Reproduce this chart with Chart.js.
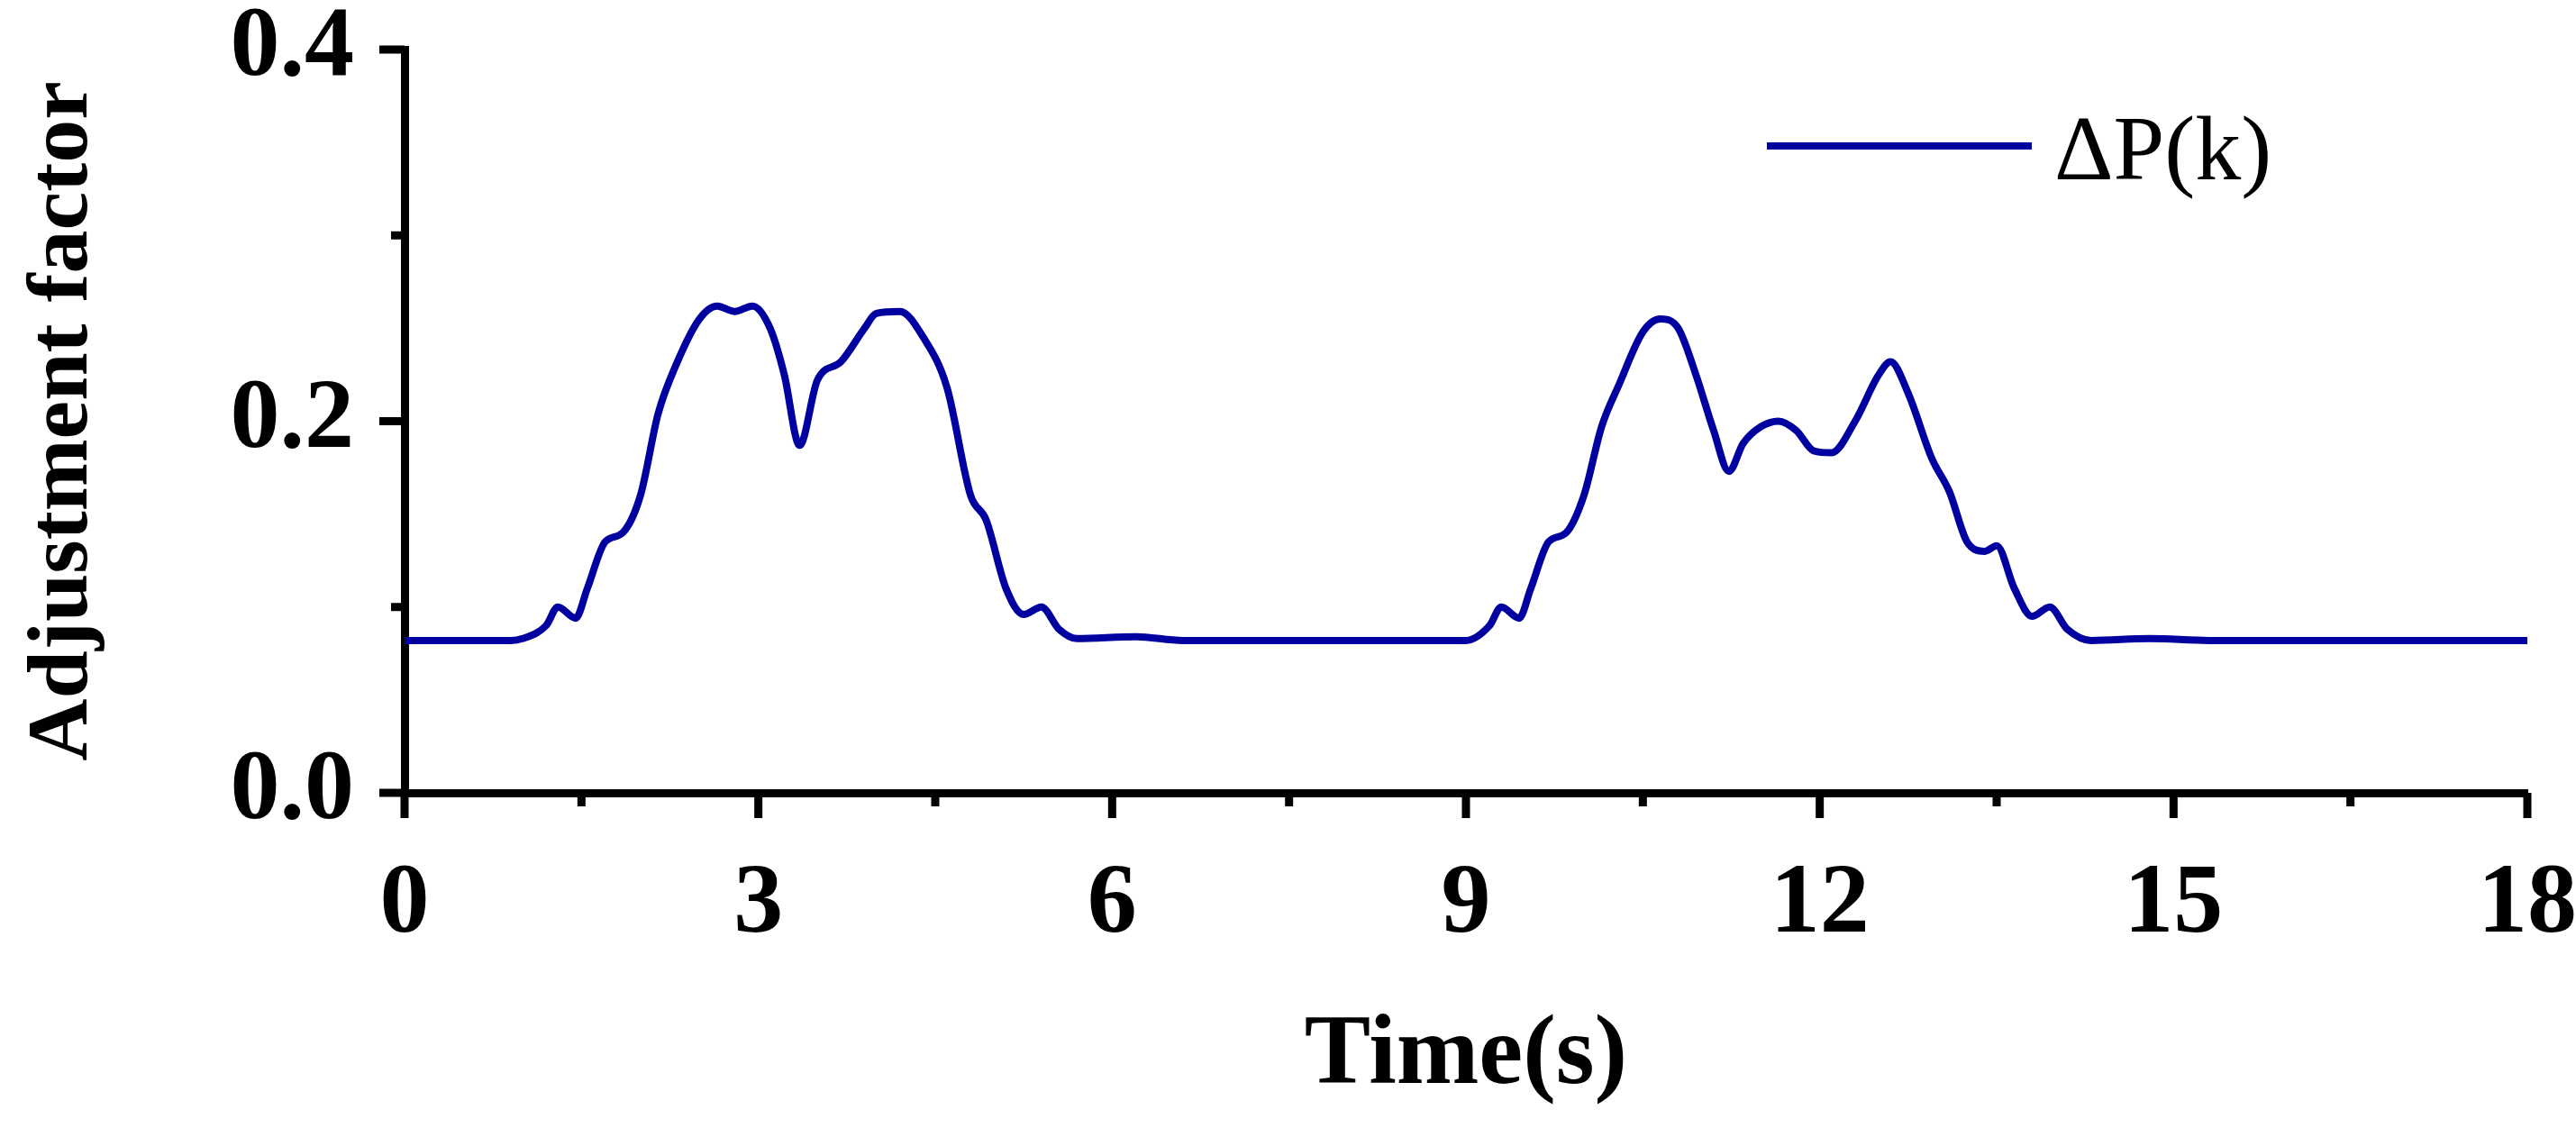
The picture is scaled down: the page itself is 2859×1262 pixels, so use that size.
<!DOCTYPE html>
<html lang="en">
<head>
    <meta charset="UTF-8">
    <title>Adjustment factor</title>
    <script src="https://cdn.jsdelivr.net/npm/chart.js"></script>
    <style>
        html, body { margin: 0; padding: 0; background: white; }
        #wrap { width: 2859px; height: 1262px; }
    </style>
</head>
<body>
    <div id="wrap"><canvas id="myChart"></canvas></div>
    <script>
        const times = [0, 0.9, 1.0, 1.2, 1.3, 1.45, 1.55, 1.7, 1.85, 2.0, 2.15, 2.3, 2.5, 2.65, 2.8, 2.95, 3.1, 3.22, 3.35, 3.5, 3.7, 3.9, 4.0, 4.2, 4.4, 4.6, 4.8, 4.93, 5.1, 5.25, 5.4, 5.55, 5.7, 6.2, 6.6,
            9.0, 9.2, 9.3, 9.45, 9.55, 9.7, 9.85, 10.0, 10.15, 10.3, 10.5, 10.65, 10.8, 10.95, 11.1, 11.23, 11.35, 11.5, 11.65, 11.8, 11.95, 12.1, 12.3, 12.5, 12.6, 12.75, 12.95, 13.1, 13.25, 13.4, 13.5, 13.65, 13.8, 13.95, 14.1, 14.3, 14.8, 15.3, 18];
        const deltaP = [0.082, 0.082, 0.083, 0.09, 0.1, 0.094, 0.11, 0.135, 0.14, 0.16, 0.204, 0.23, 0.255, 0.262, 0.259, 0.262, 0.25, 0.225, 0.187, 0.222, 0.232, 0.25, 0.258, 0.259, 0.245, 0.218, 0.16, 0.147, 0.11, 0.096, 0.1, 0.088, 0.083, 0.084, 0.082,
            0.082, 0.09, 0.1, 0.094, 0.11, 0.135, 0.14, 0.16, 0.197, 0.22, 0.248, 0.255, 0.25, 0.225, 0.195, 0.173, 0.188, 0.197, 0.2, 0.195, 0.184, 0.183, 0.2, 0.225, 0.232, 0.215, 0.18, 0.162, 0.135, 0.13, 0.133, 0.11, 0.095, 0.1, 0.088, 0.082, 0.083, 0.082, 0.082];
        const xTicks = [0, 3, 6, 9, 12, 15, 18];
        const yTicks = [0.0, 0.2, 0.4];
        const seriesLabel = "\u0394P(k)";

        const blue = "#0000A0";
        const font = "'Liberation Serif', 'Times New Roman', serif";

        // outward major/minor ticks and the legend
        const decor = {
            id: "decor",
            afterDraw(chart) {
                const ctx = chart.ctx;
                const x = chart.scales.x, y = chart.scales.y;
                ctx.save();
                ctx.strokeStyle = "black";
                ctx.lineWidth = 9;
                for (let i = 0; i < xTicks.length; i++) {
                    const px = x.getPixelForValue(xTicks[i]);
                    ctx.beginPath(); ctx.moveTo(px, y.bottom); ctx.lineTo(px, y.bottom + 28); ctx.stroke();
                    if (i < xTicks.length - 1) {
                        const pm = x.getPixelForValue((xTicks[i] + xTicks[i + 1]) / 2);
                        ctx.beginPath(); ctx.moveTo(pm, y.bottom); ctx.lineTo(pm, y.bottom + 15); ctx.stroke();
                    }
                }
                for (let i = 0; i < yTicks.length; i++) {
                    const py = y.getPixelForValue(yTicks[i]);
                    ctx.beginPath(); ctx.moveTo(x.left, py); ctx.lineTo(x.left - 28, py); ctx.stroke();
                    if (i < yTicks.length - 1) {
                        const pm = y.getPixelForValue((yTicks[i] + yTicks[i + 1]) / 2);
                        ctx.beginPath(); ctx.moveTo(x.left, pm); ctx.lineTo(x.left - 15, pm); ctx.stroke();
                    }
                }
                // legend
                ctx.strokeStyle = blue;
                ctx.lineWidth = 8;
                ctx.beginPath(); ctx.moveTo(1961, 162); ctx.lineTo(2255, 162); ctx.stroke();
                ctx.fillStyle = "black";
                ctx.font = "102px " + font;
                ctx.textBaseline = "middle";
                ctx.fillText(chart.data.datasets[0].label, 2280, 172);
                ctx.restore();
            }
        };

        new Chart(document.getElementById("myChart"), {
            type: "line",
            data: {
                datasets: [{
                    label: seriesLabel,
                    data: times.map((t, i) => ({ x: t, y: deltaP[i] })),
                    borderColor: blue,
                    borderWidth: 8,
                    pointRadius: 0,
                    cubicInterpolationMode: "monotone",
                    fill: false
                }]
            },
            options: {
                responsive: true,
                maintainAspectRatio: false,
                animation: false,
                layout: { padding: { top: 0, right: 0, left: 0, bottom: 0 } },
                plugins: { legend: { display: false }, tooltip: { enabled: false } },
                scales: {
                    x: {
                        type: "linear", min: 0, max: 18,
                        afterFit: s => { s.height = 382; s.paddingRight = 54; },
                        afterBuildTicks: s => { s.ticks = xTicks.map(v => ({ value: v })); },
                        grid: { display: false },
                        border: { display: true, color: "black", width: 9 },
                        ticks: { color: "black", padding: 52, maxRotation: 0, font: { family: font, size: 110, weight: "bold" } },
                        title: { display: true, text: "Time(s)", color: "black", padding: { top: 0, bottom: 22 }, font: { family: font, size: 110, weight: "bold" } }
                    },
                    y: {
                        min: 0, max: 0.4,
                        afterFit: s => { s.width = 449; s.paddingTop = 55; },
                        afterBuildTicks: s => { s.ticks = yTicks.map(v => ({ value: v })); },
                        grid: { display: false },
                        border: { display: true, color: "black", width: 9 },
                        ticks: { color: "black", padding: 48, font: { family: font, size: 110, weight: "bold" }, callback: v => v.toFixed(1) },
                        title: { display: true, text: "Adjustment factor", color: "black", padding: { top: 14, bottom: 0 }, font: { family: font, size: 96, weight: "bold" } }
                    }
                }
            },
            plugins: [decor]
        });
    </script>
</body>
</html>
